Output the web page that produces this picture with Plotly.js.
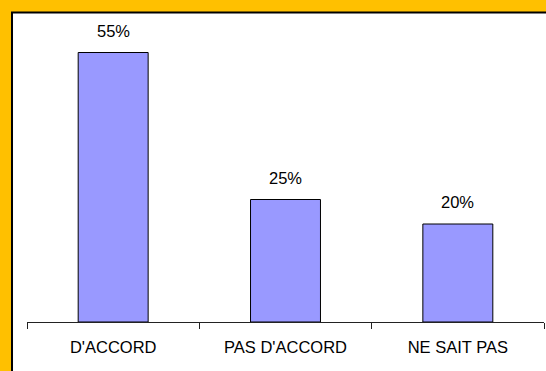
<!DOCTYPE html>
<html>
<head>
<meta charset="utf-8">
<script src="https://cdn.plot.ly/plotly-3.0.1.min.js"></script>
<style>html,body{margin:0;padding:0;background:#FFC000;}#chart{width:546px;height:371px;}</style>
</head>
<body>
<div id="chart"></div>
<script>
const categories = ["D'ACCORD", "PAS D'ACCORD", "NE SAIT PAS"];
const values = [55, 25, 20];
const valueLabels = ["55%", "25%", "20%"];

const FONT = '"Liberation Sans", Arial, sans-serif';

const trace = {
  type: 'bar',
  x: categories,
  y: values,
  marker: {color: '#9999FF', line: {color: '#000000', width: 1}},
  hoverinfo: 'none'
};

const annotations = categories.map((c, i) => ({
  x: c, y: values[i], xref: 'x', yref: 'y',
  text: valueLabels[i], showarrow: false,
  yanchor: 'middle', yshift: 22,
  font: {family: FONT, size: 16.5, color: '#000000'}
}));

const layout = {
  width: 546, height: 371,
  paper_bgcolor: '#FFC000',
  plot_bgcolor: 'rgba(0,0,0,0)',
  margin: {l: 27, r: 2, t: 27.5, b: 49, pad: 0},
  bargap: 0.594,
  showlegend: false,
  font: {family: FONT, size: 16.5, color: '#000000'},
  xaxis: {
    type: 'category',
    range: [-0.5, 2.5],
    showline: true, linecolor: '#222222', linewidth: 1,
    ticks: 'outside', tickson: 'boundaries', ticklen: 6, tickcolor: '#222222', tickwidth: 1,
    showgrid: false, zeroline: false,
    ticklabelstandoff: 10,
    tickfont: {family: FONT, size: 16.5, color: '#000000'}
  },
  yaxis: {
    range: [0, 60], visible: false, showgrid: false, zeroline: false, fixedrange: true
  },
  annotations: annotations,
  shapes: [{
    type: 'rect', xref: 'paper', yref: 'paper', layer: 'below',
    x0: -0.029, x1: 1.05, y0: -0.25, y1: 1.0526,
    fillcolor: '#FFFFFF', line: {color: '#000000', width: 2}
  }]
};

Plotly.newPlot('chart', [trace], layout, {displayModeBar: false, staticPlot: true});
</script>
</body>
</html>
